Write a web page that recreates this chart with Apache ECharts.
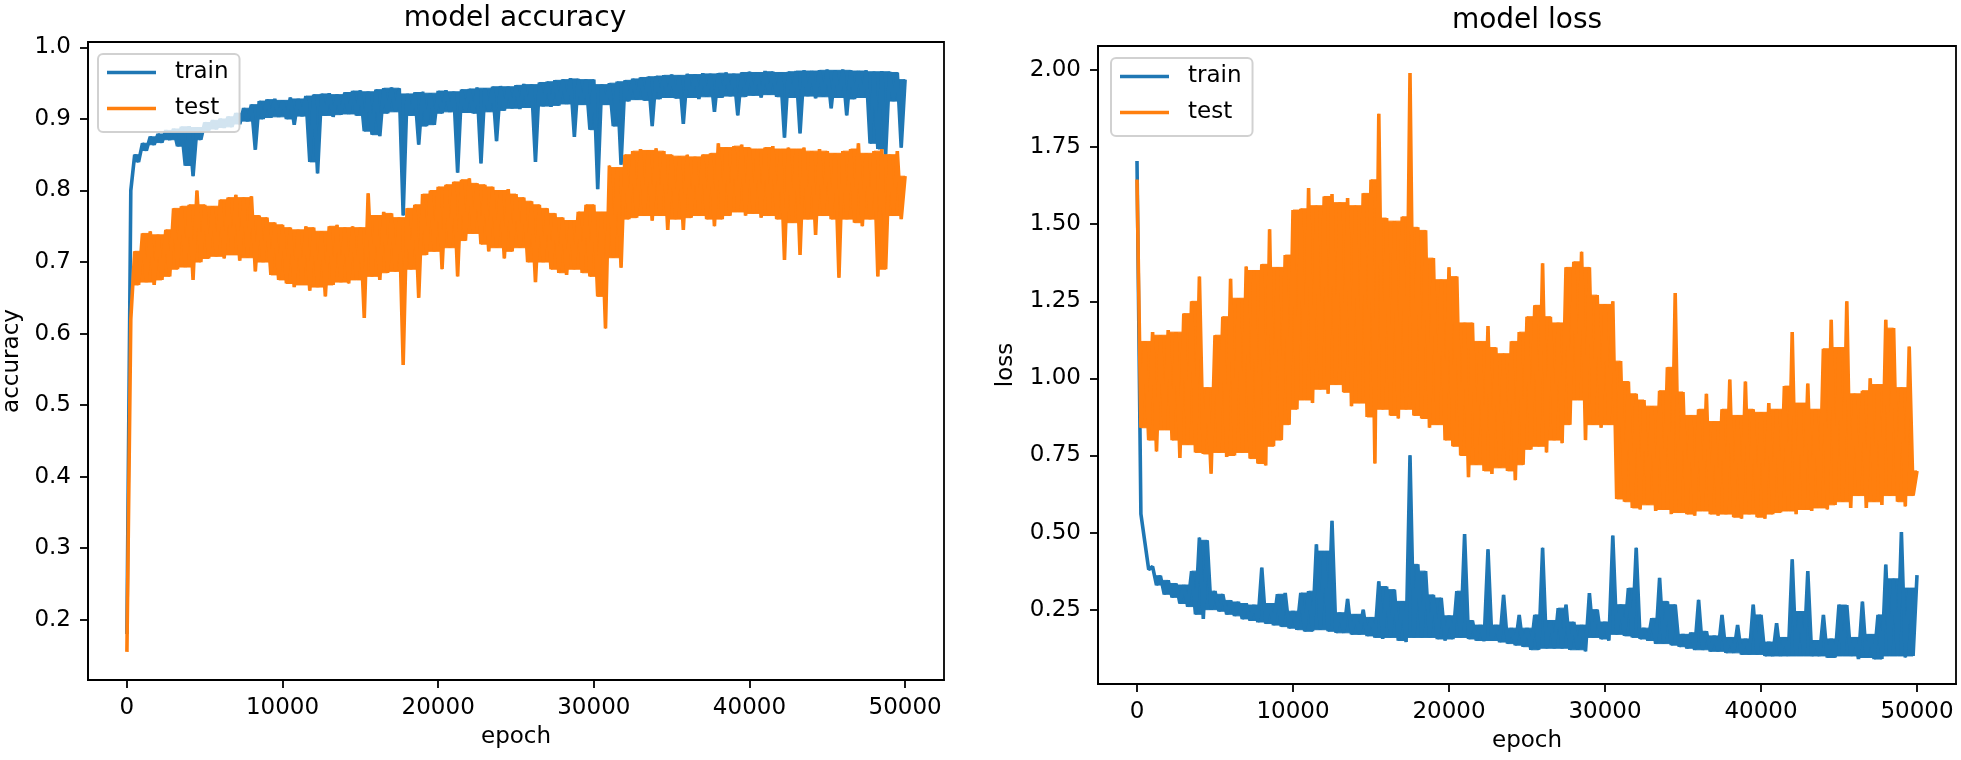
<!DOCTYPE html>
<html><head><meta charset="utf-8">
<script src="https://cdn.jsdelivr.net/npm/echarts@6.0.0/dist/echarts.min.js"></script>
<style>html,body{margin:0;padding:0;background:#fff}#c{width:1961px;height:760px}</style>
</head><body><div id="c"></div>
<script>
// values, one every 250 epochs (0 .. 50000)
const EPOCH_STEP = 250;
const xTicks = [0, 10000, 20000, 30000, 40000, 50000];
const accTicks = [0.2, 0.3, 0.4, 0.5, 0.6, 0.7, 0.8, 0.9, 1.0];
const lossTicks = [0.25, 0.5, 0.75, 1.0, 1.25, 1.5, 1.75, 2.0];
const seriesNames = ['train', 'test'];
const titles = ['model accuracy', 'model loss'];

const trainAcc = [
0.18, 0.80, 0.85, 0.84, 0.866, 0.856, 0.875, 0.864, 0.879, 0.867,
0.884, 0.871, 0.886, 0.862, 0.889, 0.835, 0.89, 0.82, 0.888, 0.871,
0.895, 0.884, 0.898, 0.886, 0.90, 0.888, 0.903, 0.889, 0.908, 0.893,
0.915, 0.897, 0.92, 0.857, 0.925, 0.90, 0.927, 0.902, 0.928, 0.903,
0.926, 0.90, 0.93, 0.892, 0.928, 0.904, 0.932, 0.84, 0.934, 0.824,
0.935, 0.905, 0.936, 0.903, 0.934, 0.906, 0.937, 0.907, 0.939, 0.905,
0.94, 0.883, 0.938, 0.878, 0.941, 0.876, 0.943, 0.908, 0.944, 0.91,
0.943, 0.765, 0.935, 0.905, 0.937, 0.864, 0.938, 0.89, 0.936, 0.892,
0.939, 0.908, 0.94, 0.91, 0.938, 0.825, 0.941, 0.909, 0.942, 0.908,
0.944, 0.838, 0.943, 0.91, 0.945, 0.869, 0.946, 0.912, 0.945, 0.915,
0.947, 0.914, 0.949, 0.916, 0.948, 0.84, 0.951, 0.918, 0.952, 0.917,
0.954, 0.919, 0.955, 0.921, 0.957, 0.875, 0.956, 0.92, 0.955, 0.885,
0.955, 0.802, 0.948, 0.92, 0.95, 0.89, 0.952, 0.836, 0.954, 0.925,
0.956, 0.927, 0.958, 0.926, 0.959, 0.89, 0.96, 0.928, 0.961, 0.93,
0.962, 0.929, 0.961, 0.893, 0.963, 0.93, 0.962, 0.928, 0.964, 0.931,
0.963, 0.91, 0.964, 0.93, 0.965, 0.932, 0.963, 0.905, 0.965, 0.931,
0.966, 0.933, 0.965, 0.93, 0.967, 0.934, 0.966, 0.931, 0.965, 0.874,
0.966, 0.93, 0.967, 0.88, 0.968, 0.932, 0.967, 0.929, 0.968, 0.931,
0.969, 0.915, 0.968, 0.93, 0.969, 0.905, 0.968, 0.928, 0.967, 0.93,
0.968, 0.866, 0.966, 0.858, 0.967, 0.85, 0.966, 0.925, 0.965, 0.86,
0.955];

const testAcc = [
0.155, 0.62, 0.715, 0.668, 0.74, 0.672, 0.743, 0.668, 0.738, 0.675,
0.745, 0.68, 0.775, 0.69, 0.778, 0.693, 0.78, 0.675, 0.80, 0.70,
0.78, 0.705, 0.778, 0.708, 0.787, 0.705, 0.79, 0.71, 0.794, 0.702,
0.79, 0.706, 0.792, 0.687, 0.765, 0.70, 0.762, 0.682, 0.755, 0.675,
0.752, 0.67, 0.748, 0.665, 0.745, 0.668, 0.75, 0.66, 0.748, 0.665,
0.743, 0.652, 0.75, 0.668, 0.752, 0.672, 0.748, 0.67, 0.75, 0.675,
0.748, 0.622, 0.796, 0.68, 0.765, 0.675, 0.77, 0.685, 0.768, 0.687,
0.762, 0.556, 0.775, 0.69, 0.78, 0.65, 0.795, 0.71, 0.80, 0.715,
0.805, 0.69, 0.808, 0.72, 0.812, 0.68, 0.815, 0.73, 0.817, 0.74,
0.81, 0.725, 0.808, 0.715, 0.805, 0.72, 0.80, 0.705, 0.802, 0.715,
0.795, 0.72, 0.79, 0.70, 0.785, 0.672, 0.78, 0.70, 0.775, 0.69,
0.768, 0.685, 0.762, 0.682, 0.758, 0.69, 0.77, 0.685, 0.78, 0.68,
0.78, 0.652, 0.77, 0.607, 0.835, 0.706, 0.832, 0.692, 0.85, 0.76,
0.855, 0.762, 0.858, 0.765, 0.856, 0.758, 0.859, 0.765, 0.855, 0.745,
0.85, 0.76, 0.848, 0.745, 0.85, 0.762, 0.847, 0.765, 0.85, 0.76,
0.852, 0.75, 0.866, 0.76, 0.86, 0.765, 0.862, 0.77, 0.864, 0.765,
0.86, 0.768, 0.858, 0.762, 0.86, 0.765, 0.862, 0.76, 0.858, 0.703,
0.86, 0.755, 0.858, 0.71, 0.86, 0.76, 0.855, 0.738, 0.858, 0.765,
0.855, 0.76, 0.852, 0.678, 0.855, 0.76, 0.858, 0.755, 0.866, 0.75,
0.852, 0.76, 0.855, 0.68, 0.858, 0.69, 0.85, 0.765, 0.855, 0.76,
0.82];

const trainLoss = [
1.705, 0.56, 0.47, 0.38, 0.39, 0.33, 0.36, 0.30, 0.345, 0.29,
0.335, 0.27, 0.33, 0.26, 0.375, 0.235, 0.484, 0.22, 0.475, 0.25,
0.31, 0.245, 0.30, 0.235, 0.28, 0.23, 0.275, 0.22, 0.27, 0.215,
0.265, 0.21, 0.386, 0.205, 0.27, 0.20, 0.30, 0.195, 0.304, 0.19,
0.245, 0.185, 0.304, 0.18, 0.31, 0.18, 0.462, 0.185, 0.44, 0.18,
0.538, 0.175, 0.24, 0.175, 0.285, 0.17, 0.235, 0.17, 0.25, 0.165,
0.225, 0.16, 0.342, 0.155, 0.325, 0.16, 0.315, 0.15, 0.277, 0.145,
0.751, 0.16, 0.397, 0.16, 0.375, 0.16, 0.298, 0.155, 0.288, 0.15,
0.23, 0.155, 0.31, 0.16, 0.495, 0.155, 0.215, 0.15, 0.2, 0.148,
0.446, 0.15, 0.2, 0.145, 0.298, 0.14, 0.19, 0.135, 0.233, 0.13,
0.19, 0.12, 0.233, 0.12, 0.451, 0.125, 0.215, 0.125, 0.255, 0.125,
0.266, 0.12, 0.21, 0.12, 0.2, 0.115, 0.304, 0.16, 0.25, 0.155,
0.21, 0.15, 0.49, 0.17, 0.266, 0.165, 0.32, 0.16, 0.451, 0.155,
0.19, 0.15, 0.222, 0.14, 0.353, 0.14, 0.277, 0.135, 0.266, 0.13,
0.17, 0.125, 0.175, 0.12, 0.282, 0.12, 0.18, 0.115, 0.165, 0.115,
0.233, 0.11, 0.16, 0.11, 0.2, 0.105, 0.155, 0.105, 0.266, 0.105,
0.233, 0.1, 0.145, 0.1, 0.206, 0.1, 0.16, 0.1, 0.413, 0.1,
0.244, 0.1, 0.375, 0.1, 0.15, 0.1, 0.233, 0.095, 0.155, 0.095,
0.266, 0.1, 0.265, 0.1, 0.16, 0.09, 0.276, 0.095, 0.17, 0.09,
0.233, 0.09, 0.396, 0.1, 0.35, 0.1, 0.502, 0.095, 0.32, 0.1,
0.362];

const testLoss = [
1.645, 0.84, 1.12, 0.80, 1.15, 0.763, 1.14, 0.833, 1.157, 0.80,
1.15, 0.742, 1.21, 0.785, 1.25, 0.76, 1.33, 0.755, 0.97, 0.691,
1.14, 0.76, 1.2, 0.745, 1.323, 0.75, 1.26, 0.76, 1.363, 0.74,
1.35, 0.724, 1.37, 0.718, 1.484, 0.78, 1.36, 0.80, 1.40, 0.85,
1.546, 0.90, 1.55, 0.93, 1.617, 0.92, 1.56, 0.965, 1.59, 0.95,
1.598, 0.98, 1.57, 0.955, 1.585, 0.91, 1.56, 0.92, 1.6, 0.875,
1.644, 0.724, 1.858, 0.9, 1.52, 0.88, 1.51, 0.87, 1.524, 0.9,
1.99, 0.88, 1.49, 0.87, 1.48, 0.84, 1.39, 0.85, 1.32, 0.80,
1.36, 0.78, 1.33, 0.75, 1.18, 0.68, 1.18, 0.72, 1.12, 0.70,
1.17, 0.69, 1.1, 0.71, 1.08, 0.70, 1.12, 0.67, 1.15, 0.72,
1.2, 0.77, 1.237, 0.78, 1.373, 0.76, 1.2, 0.80, 1.18, 0.79,
1.36, 0.85, 1.378, 0.93, 1.411, 0.80, 1.36, 0.85, 1.27, 0.84,
1.24, 0.85, 1.25, 0.609, 1.056, 0.60, 0.99, 0.58, 0.95, 0.575,
0.93, 0.59, 0.91, 0.57, 0.96, 0.575, 1.036, 0.56, 1.277, 0.565,
0.956, 0.56, 0.88, 0.555, 0.9, 0.57, 0.95, 0.56, 0.86, 0.555,
0.9, 0.56, 0.996, 0.55, 0.88, 0.545, 0.99, 0.56, 0.90, 0.55,
0.89, 0.545, 0.92, 0.56, 0.9, 0.565, 0.975, 0.57, 1.15, 0.56,
0.92, 0.575, 0.983, 0.57, 0.9, 0.58, 1.096, 0.575, 1.19, 0.59,
1.1, 0.6, 1.25, 0.58, 0.95, 0.62, 0.96, 0.58, 1.0, 0.60,
0.98, 0.59, 1.19, 0.62, 1.163, 0.60, 0.97, 0.585, 1.103, 0.62,
0.70];

const FONT = 'DejaVu Sans';
const BLUE = '#1f77b4', ORANGE = '#ff7f0e';
const TICK_FS = 23;

function pts(arr) { return arr.map((v, i) => [i * EPOCH_STEP, v]); }

function xAxisCfg(gi) {
  return {
    type: 'value', gridIndex: gi, min: -2500, max: 52500,
    name: 'epoch', nameLocation: 'middle', nameGap: 46,
    nameTextStyle: { fontSize: TICK_FS, color: '#000', fontFamily: FONT },
    axisLine: { show: true, onZero: false, lineStyle: { color: '#000', width: 1.8 } },
    axisTick: { show: true, customValues: xTicks, length: 8, lineStyle: { color: '#000', width: 1.8 } },
    axisLabel: { customValues: xTicks, margin: 17, fontSize: TICK_FS, color: '#000', fontFamily: FONT,
      formatter: v => String(v) },
    splitLine: { show: false }
  };
}
function yAxisCfg(gi, name, min, max, ticks, dec, gap) {
  return {
    type: 'value', gridIndex: gi, min: min, max: max,
    name: name, nameLocation: 'middle', nameRotate: 90, nameGap: gap,
    nameTextStyle: { fontSize: TICK_FS, color: '#000', fontFamily: FONT },
    axisLine: { show: true, onZero: false, lineStyle: { color: '#000', width: 1.8 } },
    axisTick: { show: true, customValues: ticks, length: 8, lineStyle: { color: '#000', width: 1.8 } },
    axisLabel: { customValues: ticks, margin: 17, fontSize: TICK_FS, color: '#000', fontFamily: FONT,
      formatter: v => Number(v).toFixed(dec) },
    splitLine: { show: false }
  };
}
function legendCfg(left, top) {
  return {
    orient: 'vertical', left: left, top: top,
    data: seriesNames.map(n => ({ name: n, icon: 'rect' })),
    itemWidth: 49, itemHeight: 3.5, itemGap: 13,
    padding: [7, 11, 12, 9],
    backgroundColor: 'rgba(255,255,255,0.8)',
    borderColor: 'rgba(204,204,204,0.9)', borderWidth: 2, borderRadius: 5,
    selectedMode: false,
    textStyle: { fontSize: TICK_FS, color: '#000', fontFamily: FONT, padding: [0, 0, 0, 14] }
  };
}
// the dense line drawn by the library, sample by sample
function lineSeries(name, gi, arr, color, z) {
  return {
    type: 'line', name: name, xAxisIndex: gi, yAxisIndex: gi, data: pts(arr),
    showSymbol: false, symbol: 'none', silent: true, z: z,
    lineStyle: { width: 3.6, color: color }, itemStyle: { color: color },
    emphasis: { disabled: true }
  };
}
// point on the segment p->q where the line reaches value v
function onSegment(p, q, v) {
  if (q[1] === p[1]) return p;
  const t = (v - p[1]) / (q[1] - p[1]);
  return [p[0] + t * (q[0] - p[0]), v];
}
// fills each notch of the oscillating line up to its lower neighbouring crest
// (or down to its higher neighbouring trough), so the line reads as the solid band
// of the original while isolated spikes stay thin
function sweepSeries(name, gi, arr, color, z) {
  const p = pts(arr);
  return {
    type: 'custom', name: name, xAxisIndex: gi, yAxisIndex: gi, data: p, z: z,
    silent: true, clip: true, itemStyle: { color: color },
    encode: { x: 0, y: 1 },
    renderItem: function (params, api) {
      const i = params.dataIndex;
      if (i > p.length - 3) return null;
      const a = p[i], m = p[i + 1], b = p[i + 2];
      let cap;
      if (m[1] < a[1] && m[1] < b[1]) cap = Math.min(a[1], b[1]);
      else if (m[1] > a[1] && m[1] > b[1]) cap = Math.max(a[1], b[1]);
      else return null;
      const p1 = onSegment(m, a, cap), p3 = onSegment(m, b, cap);
      return {
        type: 'polygon',
        shape: { points: [api.coord(p1), api.coord(m), api.coord(p3)] },
        style: { fill: color, stroke: color, lineWidth: 1 }
      };
    }
  };
}

const chart = echarts.init(document.getElementById('c'), null, { renderer: 'canvas' });
chart.setOption({
  animation: false,
  backgroundColor: '#fff',
  textStyle: { fontFamily: FONT },
  title: [
    { text: titles[0], left: 515, top: 5, padding: 0, textAlign: 'center',
      textStyle: { fontSize: 28, fontWeight: 'normal', color: '#000', fontFamily: FONT } },
    { text: titles[1], left: 1527, top: 7, padding: 0, textAlign: 'center',
      textStyle: { fontSize: 28, fontWeight: 'normal', color: '#000', fontFamily: FONT } }
  ],
  legend: [legendCfg(98, 54), legendCfg(1111, 58)],
  grid: [
    { left: 86, top: 42, width: 858, height: 638, show: true, borderColor: '#000', borderWidth: 1.8, backgroundColor: 'transparent' },
    { left: 1098, top: 46, width: 858, height: 638, show: true, borderColor: '#000', borderWidth: 1.8, backgroundColor: 'transparent' }
  ],
  xAxis: [xAxisCfg(0), xAxisCfg(1)],
  yAxis: [
    yAxisCfg(0, 'accuracy', 0.1157, 1.0076, accTicks, 1, 64),
    yAxisCfg(1, 'loss', 0.009, 2.078, lossTicks, 2, 80)
  ],
  series: [
    sweepSeries(seriesNames[0], 0, trainAcc, BLUE, 2),
    lineSeries(seriesNames[0], 0, trainAcc, BLUE, 2),
    sweepSeries(seriesNames[1], 0, testAcc, ORANGE, 3),
    lineSeries(seriesNames[1], 0, testAcc, ORANGE, 3),
    sweepSeries(seriesNames[0], 1, trainLoss, BLUE, 2),
    lineSeries(seriesNames[0], 1, trainLoss, BLUE, 2),
    sweepSeries(seriesNames[1], 1, testLoss, ORANGE, 3),
    lineSeries(seriesNames[1], 1, testLoss, ORANGE, 3)
  ]
});
</script></body></html>
